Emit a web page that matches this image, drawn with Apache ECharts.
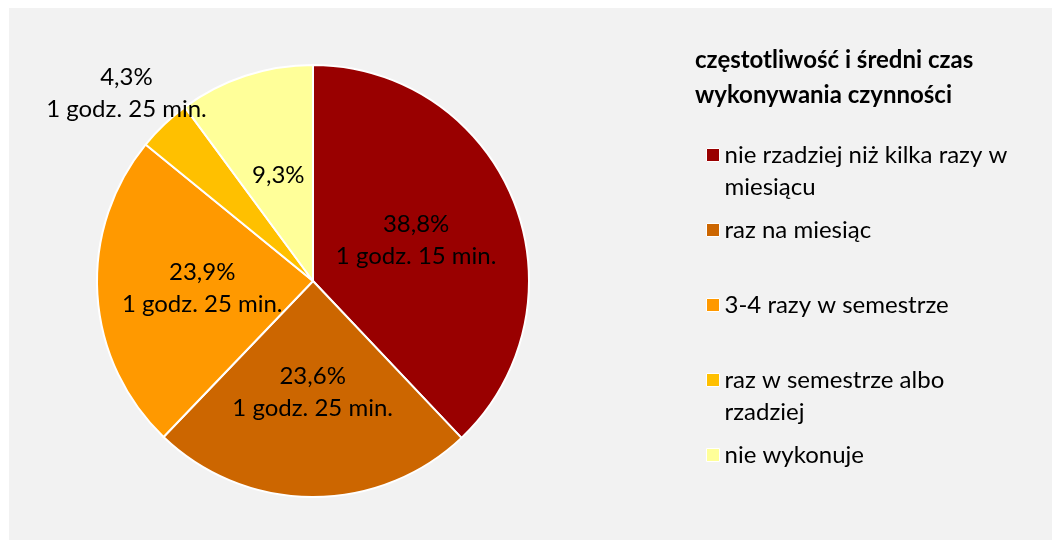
<!DOCTYPE html>
<html>
<head>
<meta charset="utf-8">
<script src="https://cdn.jsdelivr.net/npm/echarts@6/dist/echarts.min.js"></script>
<style>
html,body{margin:0;padding:0;background:#fff;}
#chart{width:1052px;height:540px;}
</style>
</head>
<body>
<div id="chart"></div>
<script>
var categories = [
  'nie rzadziej niż kilka razy w miesiącu',
  'raz na miesiąc',
  '3-4 razy w semestrze',
  'raz w semestrze albo rzadziej',
  'nie wykonuje'
];
var legendLines = [
  ['nie rzadziej niż kilka razy w', 'miesiącu'],
  ['raz na miesiąc'],
  ['3-4 razy w semestrze'],
  ['raz w semestrze albo', 'rzadziej'],
  ['nie wykonuje']
];
// slice sizes as drawn in the picture (percent)
var shares = [37.9, 24.2, 23.7, 4.0, 10.1];
var pctLabels = ['38,8%', '23,6%', '23,9%', '4,3%', '9,3%'];
var timeLabels = ['1 godz. 15 min.', '1 godz. 25 min.', '1 godz. 25 min.', '1 godz. 25 min.', ''];
var colors = ['#990000', '#CC6600', '#FF9900', '#FFC000', '#FFFF99'];
var titleText = 'częstotliwość i średni czas\nwykonywania czynności';

var FONT = 'Lato';
var FS = 24;
var LH = 32;
var chart = echarts.init(document.getElementById('chart'));

var legends = categories.map(function (name, i) {
  var lines = legendLines[i];
  var center = 155 + i * 75;
  var multi = lines.length > 1;
  return {
    data: [name],
    orient: 'vertical',
    left: 706,
    top: center - (multi ? 1.5 * LH : LH / 2),
    padding: 0,
    itemWidth: 13,
    itemHeight: 13,
    icon: 'rect',
    selectedMode: false,
    itemStyle: { borderColor: '#ffffff', borderWidth: 1 },
    formatter: function () { return (multi ? '\n' : '') + lines.join('\n'); },
    textStyle: { fontFamily: FONT, fontSize: FS, color: '#000', lineHeight: LH }
  };
});

chart.setOption({
  backgroundColor: '#ffffff',
  color: colors,
  animation: false,
  graphic: [{
    type: 'rect', z: -10, silent: true,
    shape: { x: 9, y: 8, width: 1052, height: 540 },
    style: { fill: '#f2f2f2' }
  }],
  title: {
    text: titleText,
    left: 695, top: 43, padding: 0,
    textStyle: { fontFamily: FONT, fontSize: FS, fontWeight: 'bold', color: '#000', lineHeight: 35 }
  },
  legend: legends,
  series: [{
    type: 'pie',
    center: [313, 281],
    radius: [0, 216],
    startAngle: 90,
    clockwise: true,
    avoidLabelOverlap: false,
    itemStyle: { borderColor: '#ffffff', borderWidth: 2 },
    label: {
      show: true,
      position: 'inside',
      fontFamily: FONT, fontSize: FS, color: '#000', lineHeight: LH,
      formatter: function (p) {
        var t = timeLabels[p.dataIndex];
        return t ? pctLabels[p.dataIndex] + '\n' + t : pctLabels[p.dataIndex];
      }
    },
    labelLine: { show: false },
    labelLayout: function (p) {
      if (p.dataIndex === 3) { return { dx: -110, dy: -107 }; }
      return {};
    },
    data: categories.map(function (n, i) { return { name: n, value: shares[i] }; })
  }]
});
</script>
</body>
</html>
